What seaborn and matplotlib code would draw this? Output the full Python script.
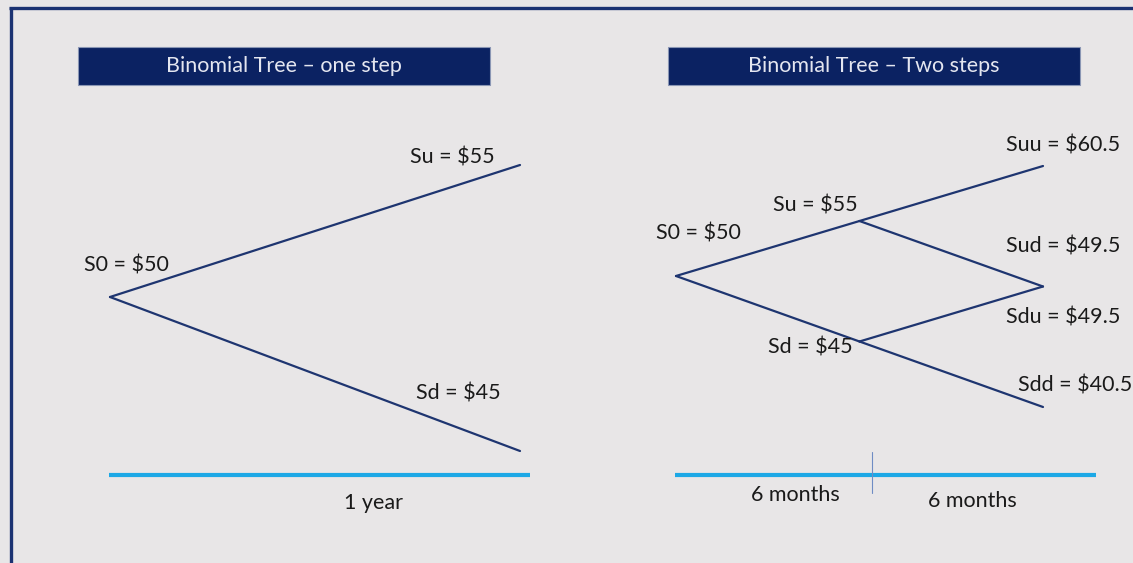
import matplotlib
matplotlib.use("Agg")
import matplotlib.pyplot as plt
from matplotlib.patches import Rectangle
import numpy as np
import pandas as pd
import seaborn as sns

# ---- data -------------------------------------------------------------
panel_titles = ["Binomial Tree \u2013 one step", "Binomial Tree \u2013 Two steps"]

# stock prices at each node, keyed by the up/down path from the root
one_step_paths = ["", "u", "d"]
one_step_prices = [50, 55, 45]

two_step_paths = ["", "u", "d", "uu", "ud", "du", "dd"]
two_step_prices = [50, 55, 45, 60.5, 49.5, 49.5, 40.5]

one_step_periods = ["1 year"]
two_step_periods = ["6 months", "6 months"]

# ---- style ------------------------------------------------------------
sns.set_theme(style="white")
plt.rcParams["font.family"] = ["Lato", "DejaVu Sans"]

BG = "#E8E6E7"
NAVY = "#0B2262"
EDGE = "#1E3570"
CYAN = "#1CA8E6"
TEXT = "#1A1A1A"
FS = 15.5

W, H = 1133, 563
fig = plt.figure(figsize=(W / 100, H / 100), dpi=100)
fig.patch.set_facecolor(BG)
ax = fig.add_axes([0, 0, 1, 1])
ax.set_xlim(0, W)
ax.set_ylim(H, 0)
ax.axis("off")
ax.set_facecolor(BG)

# slide frame: top and left rules
ax.plot([9, W], [8, 8], color="#1B3272", lw=2.4, solid_capstyle="butt")
ax.plot([10.5, 10.5], [7, H], color="#1B3272", lw=2.4, solid_capstyle="butt")


def tree_layout(paths, x0, y0, dx, up, down):
    """Place each node from its path: one column per step, vertical offset per move."""
    pos = {}
    for p in paths:
        x = x0 + len(p) * dx
        y = y0 + p.count("u") * up + p.count("d") * down
        pos[p] = (x, y)
    return pos


def node_label(path, price):
    name = "S0" if path == "" else "S" + path
    return f"{name} = ${price:g}"


def draw_tree(paths, prices, pos, offsets):
    rows = []
    edge_id = 0
    for p in paths:
        if p == "":
            continue
        # parent: for recombining trees the "du" node shares the "ud" position
        parent = p[:-1]
        rows.append({"edge": edge_id, "x": pos[parent][0], "y": pos[parent][1]})
        rows.append({"edge": edge_id, "x": pos[p][0], "y": pos[p][1]})
        edge_id += 1
    df = pd.DataFrame(rows)
    sns.lineplot(data=df, x="x", y="y", units="edge", estimator=None,
                 sort=False, color=EDGE, lw=1.6, ax=ax, legend=False)
    for p, v in zip(paths, prices):
        ox, oy = offsets[p]
        ax.text(pos[p][0] + ox, pos[p][1] + oy, node_label(p, v),
                ha="center", va="center", fontsize=FS, color=TEXT)


def title_box(x0, x1, text):
    ax.add_patch(Rectangle((x0, 47), x1 - x0, 38, facecolor=NAVY,
                           edgecolor="#8A96B4", lw=0.8, zorder=3))
    ax.text((x0 + x1) / 2, 66.5, text, ha="center", va="center",
            fontsize=FS, color="#E4E6F0", zorder=4)


# ---- left panel: one step --------------------------------------------
title_box(78, 490, panel_titles[0])
pos1 = tree_layout(one_step_paths, 110, 297, 410, -132, 154)
off1 = {"": (16, -32), "u": (-68, -8), "d": (-62, -57)}
draw_tree(one_step_paths, one_step_prices, pos1, off1)

ax.plot([109, 530], [475, 475], color=CYAN, lw=3.0, solid_capstyle="butt")
ax.text(373, 503, one_step_periods[0], ha="center", va="center",
        fontsize=FS, color=TEXT)

# ---- right panel: two steps ------------------------------------------
title_box(668, 1080, panel_titles[1])
pos2 = tree_layout(two_step_paths, 676, 276, 183.5, -55, 65.5)
off2 = {"": (22, -43), "u": (-44, -16), "d": (-49, 6),
        "uu": (20, -20), "ud": (20, -40), "du": (20, 31), "dd": (32, -21)}
draw_tree(two_step_paths, two_step_prices, pos2, off2)

ax.plot([675, 1096], [475, 475], color=CYAN, lw=3.0, solid_capstyle="butt")
ax.plot([872, 872], [452, 493], color="#6F8CC4", lw=0.8)
ax.text(795, 495, two_step_periods[0], ha="center", va="center",
        fontsize=FS, color=TEXT)
ax.text(972, 501, two_step_periods[1], ha="center", va="center",
        fontsize=FS, color=TEXT)

fig.savefig("out.png", dpi=100, facecolor=BG)
